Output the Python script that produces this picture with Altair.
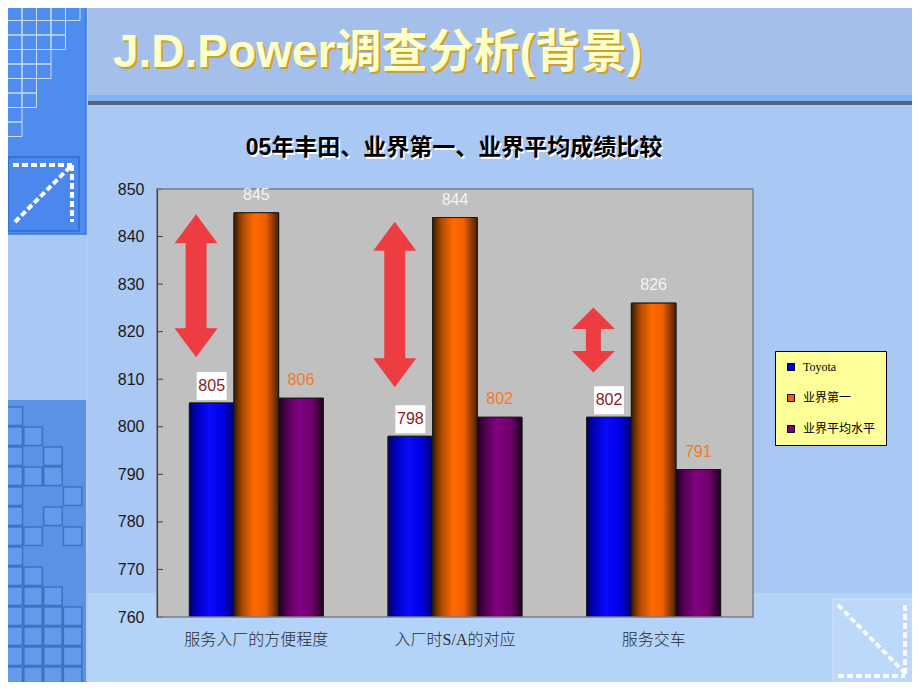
import altair as alt
import pandas as pd

# ---------------- data ----------------
categories = ["服务入厂的方便程度", "入厂时S/A的对应", "服务交车"]
series = ["Toyota", "业界第一", "业界平均水平"]
toyota = [805, 798, 802]
industry_best = [845, 844, 826]
industry_avg = [806, 802, 791]
arrow_top = [844.7, 843.1, 825.1]
arrow_bottom = [814.6, 808.3, 811.4]
y_ticks = [760, 770, 780, 790, 800, 810, 820, 830, 840, 850]

title_text = "J.D.Power调查分析(背景)"
subtitle_text = "05年丰田、业界第一、业界平均成绩比较"

# decorative square patterns of the slide template (columns used per row)
stair_counts = [5, 4, 4, 3, 3, 2, 2, 1, 1]
block_rows = [[0], [0, 1], [0, 2], [0, 1, 2], [0, 3], [0, 2], [0, 1, 3], [0], [0, 1],
              [0, 1, 2], [0, 1, 2, 3], [0, 1, 2, 3], [0, 1, 2, 3], [0, 1, 2, 3]]

rows = []
for i, c in enumerate(categories):
    for s, vals in zip(series, [toyota, industry_best, industry_avg]):
        rows.append({"cat": c, "series": s, "value": vals[i]})
df = pd.DataFrame(rows)
arrows = pd.DataFrame({"cat": categories, "top": arrow_top, "bottom": arrow_bottom})
ticks_df = pd.DataFrame({"v": y_ticks})

# ---------------- layout ----------------
W, H = 596, 428
PX0, PY0 = 157, 189          # page position of plot origin
PAD = {"left": PX0 - 8, "top": PY0 - 8, "right": 904 - (PX0 - 8) - W, "bottom": 674 - (PY0 - 8) - H}


def px(x):
    return x - PX0


def py(y):
    return y - PY0


one = alt.Data(values=[{"k": 1}])
SANS = "Liberation Sans, Noto Sans CJK SC"
SERIF = "Liberation Serif, Noto Sans CJK SC"
RED = "#EE3D42"

x_scale = alt.Scale(domain=categories, paddingInner=0.326, paddingOuter=0.163)
xo_scale = alt.Scale(domain=series, paddingInner=0, paddingOuter=0)
y_scale = alt.Scale(domain=[760, 850], zero=False, nice=False)

X_AXIS = alt.Axis(
    labelFont=SERIF, labelFontSize=16, labelFontWeight=300, labelColor="#2B2B2B", labelAngle=0,
    ticks=False, tickSize=0, domain=False, labelPadding=14, grid=False, zindex=2,
)
Y_AXIS = alt.Axis(
    values=y_ticks, labelFont="Liberation Sans", labelFontSize=16, labelColor="#1A1A1A", ticks=False,
    tickSize=0, labelPadding=13, domainColor="#404040", domainWidth=1.2, grid=False, zindex=2,
)


def X(**kw):
    return alt.X("cat:N", scale=x_scale, sort=categories, title=None, axis=X_AXIS, **kw)


XO = alt.XOffset("series:N", scale=xo_scale, sort=series)


def Y(field="value:Q"):
    return alt.Y(field, scale=y_scale, title=None, axis=Y_AXIS)


def rect(x1, x2, y1, y2, **mk):
    return alt.Chart(one).mark_rect(**mk).encode(
        x=alt.value(px(x1)), x2=alt.value(px(x2)), y=alt.value(py(y1)), y2=alt.value(py(y2))
    )


def rule(x1, y1, x2, y2, **mk):
    return alt.Chart(one).mark_rule(**mk).encode(
        x=alt.value(px(x1)), x2=alt.value(px(x2)), y=alt.value(py(y1)), y2=alt.value(py(y2))
    )


def text(t, x, y, **mk):
    return alt.Chart(one).mark_text(**mk).encode(
        x=alt.value(px(x)), y=alt.value(py(y)), text=alt.value(t)
    )


# ---------------- slide decoration ----------------
bg = []
bg.append(rect(0, 930, 0, 95, color="#A4BFEA"))
bg.append(rect(0, 930, 593, 700, color="#B4D3F9"))
bg.append(rect(0, 87, 400, 700, color="#5B92E6"))
bg.append(rect(86, 88, 0, 700, color="#B2CDF4"))
bg.append(rect(1, 86, 0, 234, color="#4E8CF0", stroke="#3A77DA", strokeWidth=1.5))
bg.append(rect(8, 79, 157, 231, color="#4A88EE", stroke="#2F6BCF", strokeWidth=1.5))
dash = dict(color="#FFFFFF", strokeWidth=4, strokeDash=[6, 3])
bg.append(rule(13, 165, 72, 165, **dash))
bg.append(rule(72, 165, 72, 222, **dash))
bg.append(rule(15, 222, 70, 167, **dash))
bg.append(rect(88, 930, 95, 101, color="#80B2F4"))
bg.append(rect(88, 930, 101, 105, color="#56627A"))
bg.append(rect(833, 913, 599, 683, color="#BDD8FB", stroke="#D6E7FD", strokeWidth=1))
dash2 = dict(color="#FFFFFF", strokeWidth=4, strokeDash=[6, 3], opacity=0.9)
bg.append(rule(838, 605, 905, 673, **dash2))
bg.append(rule(905, 605, 905, 676, **dash2))
bg.append(rule(838, 676, 905, 676, **dash2))
bg_layer = alt.layer(*bg)

# square patterns (pixel scale: value == pixel offset from plot origin)
cells = []
for r, n in enumerate(stair_counts):
    for c in range(n):
        x0, y0 = 7.5 + c * 14.5, 6 + r * 14.5
        cells.append({"x0": px(x0), "x1": px(x0 + 14.5), "y0": py(y0), "y1": py(y0 + 14.5), "g": "a"})
for r, cols in enumerate(block_rows):
    for c in cols:
        x0, y0 = 4 + c * 19.8, 407 + r * 20
        cells.append({"x0": px(x0), "x1": px(x0 + 18.5), "y0": py(y0), "y1": py(y0 + 18.5), "g": "b"})
cells_df = pd.DataFrame(cells)
PXS = alt.Scale(domain=[0, W], zero=False, nice=False)
PYS = alt.Scale(domain=[H, 0], zero=False, nice=False)
grid_a = alt.Chart(cells_df).transform_filter(alt.datum.g == "a").mark_rect(
    fillOpacity=0, stroke="#C9DDFA", strokeWidth=1
).encode(x=alt.X("x0:Q", scale=PXS, axis=None), x2="x1:Q", y=alt.Y("y0:Q", scale=PYS, axis=None), y2="y1:Q")
grid_b = alt.Chart(cells_df).transform_filter(alt.datum.g == "b").mark_rect(
    color="#639AEA", stroke="#3E70C2", strokeWidth=1.5
).encode(x=alt.X("x0:Q", scale=PXS, axis=None), x2="x1:Q", y=alt.Y("y0:Q", scale=PYS, axis=None), y2="y1:Q")
grid_layer = alt.layer(grid_a, grid_b)

# ---------------- plot area ----------------
layers = []
layers.append(rect(PX0, PX0 + W, PY0, PY0 + H, color="#C0C0C0"))
layers.append(
    alt.Chart(ticks_df).mark_rule(color="#404040", strokeWidth=1).encode(
        x=alt.value(0), x2=alt.value(6), y=Y("v:Q")
    )
)

base_colors = ["#0000F0", "#F06000", "#7A007A"]
layers.append(
    alt.Chart(df).mark_bar(stroke="#1A1A1A", strokeWidth=1, clip=True).encode(
        x=X(),
        xOffset=XO,
        y=Y(),
        color=alt.Color(
            "series:N",
            scale=alt.Scale(domain=series, range=base_colors),
            legend=alt.Legend(
                title=None, orient="none", legendX=618, legendY=162,
                fillColor="#FFFF99", strokeColor="#000000", padding=10,
                rowPadding=19, symbolType="square", symbolSize=49,
                symbolStrokeColor="#000000", symbolStrokeWidth=1,
                labelFont=SERIF, labelFontSize=12, labelColor="#000000",
                labelOffset=6, cornerRadius=0,
            ),
        ),
    )
)

grads = {
    "Toyota": [(0, "#000060"), (0.15, "#0000B8"), (0.45, "#0A0AFF"), (0.75, "#0000E0"), (1, "#00006E")],
    "业界第一": [(0, "#3A1C00"), (0.2, "#B04A00"), (0.45, "#FF6A00"), (0.7, "#F06000"), (1, "#4A2000")],
    "业界平均水平": [(0, "#1E001E"), (0.2, "#580058"), (0.45, "#820082"), (0.75, "#6E006C"), (1, "#1C001C")],
}
for s in series:
    g = alt.Gradient(
        gradient="linear",
        stops=[alt.GradientStop(offset=o, color=c) for o, c in grads[s]],
        x1=0, x2=1, y1=0, y2=0,
    )
    layers.append(
        alt.Chart(df).transform_filter(alt.datum.series == s).mark_bar(
            fill=g, stroke="#1A1A1A", strokeWidth=1, clip=True
        ).encode(x=X(), xOffset=XO, y=Y())
    )

# plot border
layers.append(rect(PX0, PX0 + W, PY0, PY0 + H, fillOpacity=0, stroke="#7C7C86", strokeWidth=1.5))

# ---------------- arrows ----------------
small = alt.datum.cat == categories[2]
AX = X(bandPosition=0.05)
layers.append(
    alt.Chart(arrows).mark_rule(color=RED, strokeCap="butt", yOffset=19, y2Offset=-19).encode(
        x=AX, y=Y("top:Q"), y2="bottom:Q",
        strokeWidth=alt.condition(small, alt.value(15), alt.value(21)),
    )
)
layers.append(
    alt.Chart(arrows).mark_point(size=1849, filled=True, color=RED, opacity=1, strokeWidth=0).encode(
        x=AX, y=Y("top:Q"),
        shape=alt.condition(small, alt.value("M0,0L1,1L-1,1Z"), alt.value("M0,0L1,1.35L-1,1.35Z")),
    )
)
layers.append(
    alt.Chart(arrows).mark_point(size=1849, filled=True, color=RED, opacity=1, strokeWidth=0).encode(
        x=AX, y=Y("bottom:Q"),
        shape=alt.condition(small, alt.value("M0,0L1,-1L-1,-1Z"), alt.value("M0,0L1,-1.35L-1,-1.35Z")),
    )
)

# ---------------- value labels ----------------
layers.append(
    alt.Chart(df).transform_filter(alt.datum.series == "Toyota").mark_point(
        shape="M-1,-2.07L1,-2.07L1,-0.2L-1,-0.2Z", size=900, filled=True, color="#FFFFFF", opacity=1, strokeWidth=0
    ).encode(x=X(), xOffset=XO, y=Y())
)
label_style = {"Toyota": ("#8B1A22", -17), "业界第一": ("#F4F4F4", -18), "业界平均水平": ("#F07A28", -18)}
for s in series:
    col, dy = label_style[s]
    layers.append(
        alt.Chart(df).transform_filter(alt.datum.series == s).mark_text(
            font="Liberation Sans", fontSize=16, baseline="middle", align="center", dy=dy, color=col
        ).encode(x=X(), xOffset=XO, y=Y(), text="value:Q")
    )
main_layer = alt.layer(*layers)

# ---------------- titles ----------------
titles = alt.layer(
    text(title_text, 115, 55, font=SANS, fontSize=46, fontWeight="bold", align="left", baseline="middle", color="#C9A227"),
    text(title_text, 113, 53, font=SANS, fontSize=46, fontWeight="bold", align="left", baseline="middle", color="#FFFFCC"),
    text(subtitle_text, 455.5, 149.5, font=SANS, fontSize=23, fontWeight="bold", align="center", baseline="middle", color="#FFFFFF"),
    text(subtitle_text, 454, 148, font=SANS, fontSize=23, fontWeight="bold", align="center", baseline="middle", color="#000000"),
)

chart = (
    alt.layer(bg_layer, grid_layer, main_layer, titles)
    .resolve_scale(x="independent", y="independent")
    .properties(width=W, height=H, padding=PAD, autosize=alt.AutoSizeParams(type="none"), background="#A9C8F4")
    .configure_view(stroke=None)
)

chart.save("out.html", embed_options={"renderer": "svg", "actions": False})
